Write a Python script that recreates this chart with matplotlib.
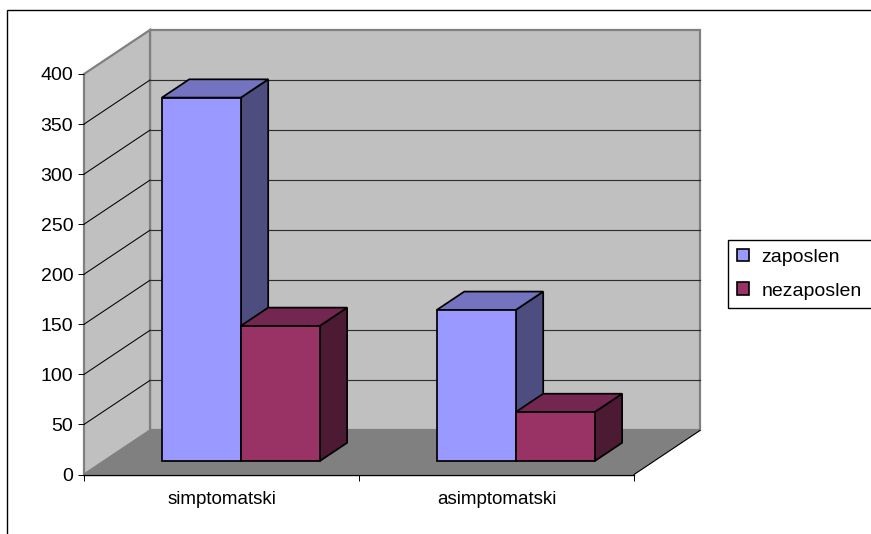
import matplotlib
matplotlib.use("Agg")
import matplotlib.pyplot as plt
from matplotlib.patches import Polygon, Patch, Rectangle

categories = ["simptomatski", "asimptomatski"]
zaposlen = [363, 151]
nezaposlen = [135, 49]
series_names = ["zaposlen", "nezaposlen"]
y_ticks = [0, 50, 100, 150, 200, 250, 300, 350, 400]

W, H = 871, 534
# depth of the fake 3d box, in data units (category, value)
DEPTH_X = 66 / 275
DEPTH_Y = 44
BAR_D0, BAR_D1 = 0.305, 0.72
BAR_START = 0.21
BAR_W = 0.287

plt.rcParams["font.family"] = ["Liberation Sans", "DejaVu Sans"]


def proj(x, y, d):
    return (x + d * DEPTH_X, y + d * DEPTH_Y)


def add_poly(ax, pts, face, edge="black", lw=1.25, z=1):
    ax.add_patch(Polygon(pts, closed=True, facecolor=face, edgecolor=edge, linewidth=lw,
                         joinstyle="miter", clip_on=False, zorder=z))


def draw_bar(ax, left, width, value, colors, z):
    front, side, top = colors
    x0, x1 = left, left + width
    add_poly(ax, [proj(x1, 0, BAR_D0), proj(x1, 0, BAR_D1), proj(x1, value, BAR_D1), proj(x1, value, BAR_D0)], side, z=z)
    add_poly(ax, [proj(x0, value, BAR_D0), proj(x1, value, BAR_D0), proj(x1, value, BAR_D1), proj(x0, value, BAR_D1)], top, z=z)
    add_poly(ax, [proj(x0, 0, BAR_D0), proj(x1, 0, BAR_D0), proj(x1, value, BAR_D0), proj(x0, value, BAR_D0)], front, z=z)


fig = plt.figure(figsize=(W / 100, H / 100), dpi=100)
fig.add_artist(Rectangle((6.5 / W, -0.02), 1.0, 1 - 10.5 / H + 0.02, transform=fig.transFigure,
                         facecolor="white", edgecolor="black", linewidth=1.0, zorder=-1))

ax = fig.add_axes([84 / W, (H - 474.5) / H, 550 / W, 400.5 / H])
ax.set_xlim(0, 2)
ax.set_ylim(0, 400)
ax.patch.set_visible(False)
for s in ax.spines.values():
    s.set_visible(False)

# walls and floor
add_poly(ax, [proj(0, 0, 1), proj(2, 0, 1), proj(2, 400, 1), proj(0, 400, 1)], "#c0c0c0", "#808080", 1.6)
add_poly(ax, [proj(0, 0, 0), proj(0, 0, 1), proj(0, 400, 1), proj(0, 400, 0)], "#c0c0c0", "#808080", 1.6)
add_poly(ax, [proj(0, 0, 0), proj(2, 0, 0), proj(2, 0, 1), proj(0, 0, 1)], "#808080", "#808080", 0.5)

# gridlines
for v in y_ticks[1:-1]:
    ax.plot(*zip(proj(0, v, 0), proj(0, v, 1)), color="black", lw=0.75, clip_on=False, zorder=2)
    ax.plot(*zip(proj(0, v, 1), proj(2, v, 1)), color="#303030", lw=0.85, clip_on=False, zorder=2)

# floor edges
ax.plot(*zip(proj(0, 0, 0), proj(2, 0, 0)), color="black", lw=1.0, clip_on=False, zorder=3)
ax.plot(*zip(proj(2, 0, 0), proj(2, 0, 1)), color="black", lw=0.8, clip_on=False, zorder=3)

blue = ("#9999ff", "#4d4d80", "#7373bf")
red = ("#993366", "#4d1a33", "#732650")
for i in range(len(categories)):
    draw_bar(ax, i + BAR_START, BAR_W, zaposlen[i], blue, 5 + i)
    draw_bar(ax, i + BAR_START + BAR_W, BAR_W, nezaposlen[i], red, 5 + i)

ax.set_yticks(y_ticks)
ax.set_xticks([0, 1, 2])
ax.set_xticklabels([])
ax.set_xticks([0.5, 1.5], labels=categories, minor=True)
ax.tick_params(axis="y", length=4.3, width=0.7, pad=3.5, labelsize=14)
ax.tick_params(axis="x", which="major", length=4, width=0.7)
ax.tick_params(axis="x", which="minor", length=0, pad=12, labelsize=13.5)

handles = [Patch(facecolor=blue[0], edgecolor="black", linewidth=1.2),
           Patch(facecolor=red[0], edgecolor="black", linewidth=1.2)]
fig.legend(handles, series_names, loc="upper left", mode="expand",
           bbox_to_anchor=(728 / W, 1 - 308 / H, 150 / W, 68 / H),
           fontsize=14, frameon=True, fancybox=False, edgecolor="black", framealpha=1,
           handlelength=0.62, handleheight=0.62, handletextpad=0.65, labelspacing=0.85,
           borderpad=0.45, borderaxespad=0)

fig.savefig("out.png", dpi=100)
